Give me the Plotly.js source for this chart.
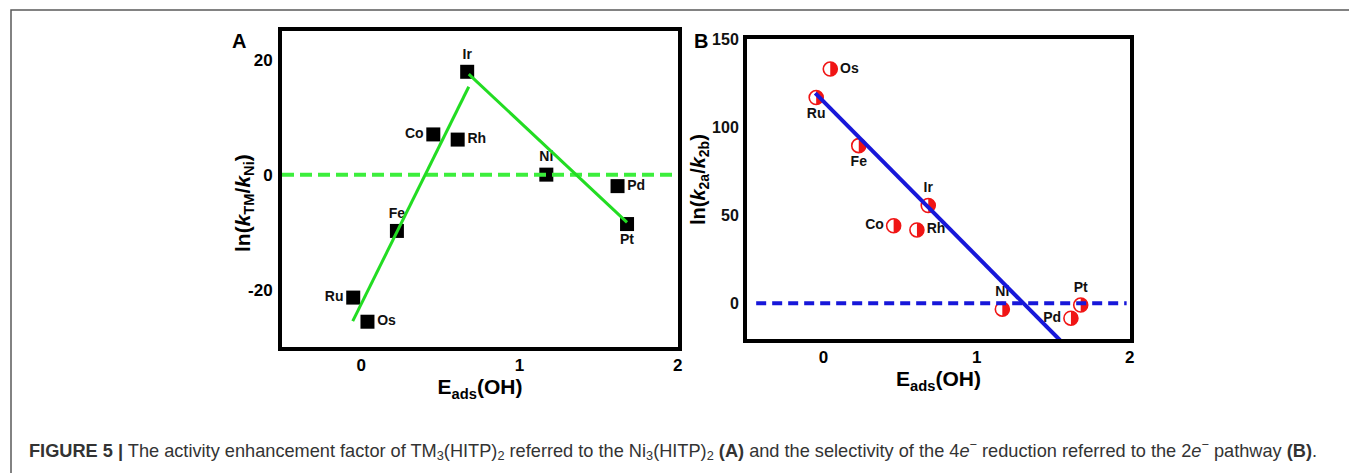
<!DOCTYPE html>
<html>
<head>
<meta charset="utf-8">
<script src="https://cdn.plot.ly/plotly-3.0.1.min.js"></script>
<style>
  html, body { margin: 0; padding: 0; background: #fff; }
  #fig { width: 1349px; height: 473px; }
</style>
</head>
<body>
<div id="fig"></div>
<script>
// ---- Panel A: activity enhancement factor ln(k_TM / k_Ni) vs E_ads(OH)
const metalsA = ['Ru', 'Os', 'Fe', 'Co', 'Rh', 'Ir', 'Ni', 'Pd', 'Pt'];
const eadsA   = [-0.05, 0.04, 0.226, 0.456, 0.61, 0.67, 1.17, 1.62, 1.68];
const lnKA    = [-21.4, -25.6, -9.8, 7.0, 6.1, 17.9, 0.0, -2.0, -8.6];

// volcano branches (left and right legs)
const legLeftX  = [-0.053, 0.68];
const legLeftY  = [-25.5, 15.3];
const legRightX = [0.68, 1.68];
const legRightY = [17.5, -8.3];

// ---- Panel B: selectivity ln(k_2a / k_2b) vs E_ads(OH)
const metalsB = ['Os', 'Ru', 'Fe', 'Ir', 'Co', 'Rh', 'Ni', 'Pd', 'Pt'];
const eadsB   = [0.044, -0.048, 0.23, 0.684, 0.458, 0.61, 1.168, 1.616, 1.68];
const lnKB    = [133, 116.8, 89.5, 55.5, 44.0, 41.6, -3.4, -8.5, -1.0];

const fitBX = [-0.054, 1.545];
const fitBY = [119.3, -21.0];

const refLineAX = [-0.5, 2.0];
const refLineBX = [-0.44, 1.98];
const refLineY  = [0, 0];

// axis ticks
const ticksX  = [0, 1, 2];
const ticksYA = [-20, 0, 20];
const ticksYB = [0, 50, 100, 150];

// label placement per element
const labelPosA = {
  Ru: 'middle left', Os: 'middle right', Fe: 'top center', Co: 'middle left',
  Rh: 'middle right', Ir: 'top center', Ni: 'top center', Pd: 'middle right', Pt: 'bottom center'
};
const labelPosB = {
  Os: 'middle right', Ru: 'bottom center', Fe: 'bottom center', Ir: 'top center',
  Co: 'middle left', Rh: 'middle right', Ni: 'top center', Pd: 'middle left', Pt: 'top center'
};

const FONT = 'Arial, "Liberation Sans", Helvetica, sans-serif';
const W = 1349, H = 473;
const px = v => v / W;
const py = v => 1 - v / H;
const bold = v => `<b>${v}</b>`;

const GREEN = '#22dc22';
const GREEN_DASH = '#3cee3c';
const BLUE = '#1717d9';
const RED = '#f01515';

const labelFont = { family: FONT, size: 14, color: '#111', weight: 'bold' };

const traces = [
  // panel A points
  {
    x: eadsA, y: lnKA, text: metalsA.map(bold), xaxis: 'x', yaxis: 'y',
    mode: 'markers+text', type: 'scatter',
    textposition: metalsA.map(m => labelPosA[m]),
    textfont: labelFont,
    marker: { symbol: 'square', size: 14, color: '#000' },
    cliponaxis: false, hoverinfo: 'skip', showlegend: false
  },
  {
    x: refLineAX, y: refLineY, xaxis: 'x', yaxis: 'y', mode: 'lines',
    line: { color: GREEN_DASH, width: 4, dash: '12px,6px' }, showlegend: false
  },
  {
    x: legLeftX, y: legLeftY, xaxis: 'x', yaxis: 'y', mode: 'lines',
    line: { color: GREEN, width: 3 }, showlegend: false
  },
  {
    x: legRightX, y: legRightY, xaxis: 'x', yaxis: 'y', mode: 'lines',
    line: { color: GREEN, width: 3 }, showlegend: false
  },
  // panel B points (open circle outline; right half filled via shapes)
  {
    x: eadsB, y: lnKB, text: metalsB.map(bold), xaxis: 'x2', yaxis: 'y2',
    mode: 'markers+text', type: 'scatter',
    textposition: metalsB.map(m => labelPosB[m]),
    textfont: labelFont,
    marker: { symbol: 'circle-open', size: 14, color: RED, line: { color: RED, width: 1.6 } },
    cliponaxis: false, hoverinfo: 'skip', showlegend: false
  },
  {
    x: refLineBX, y: refLineY, xaxis: 'x2', yaxis: 'y2', mode: 'lines',
    line: { color: BLUE, width: 4, dash: '10px,6px' }, showlegend: false
  },
  {
    x: fitBX, y: fitBY, xaxis: 'x2', yaxis: 'y2', mode: 'lines',
    line: { color: BLUE, width: 4 }, showlegend: false
  }
];

// right-half fill of each half-filled circle, sized in pixels around the data point
const r = 7, k = 0.5523 * r;
const halfPath = `M0,${r} C${k},${r} ${r},${k} ${r},0 C${r},${-k} ${k},${-r} 0,${-r} Z`;
const shapes = eadsB.map((x, i) => ({
  type: 'path', xref: 'x2', yref: 'y2',
  xsizemode: 'pixel', ysizemode: 'pixel',
  xanchor: x, yanchor: lnKB[i],
  path: halfPath, fillcolor: RED, line: { width: 0 }, layer: 'below'
}));

// outer figure frame (top and left rules)
shapes.push({
  type: 'path', xref: 'paper', yref: 'paper',
  path: `M${px(11)},0 L${px(11)},${py(10)} L1.01,${py(10)}`,
  line: { color: '#5a5a5a', width: 1.5 }
});

const tickFont = { family: FONT, size: 17, color: '#000' };
const titleFont = { family: FONT, size: 21, color: '#000', weight: 'bold' };

const axisBox = {
  showline: true, mirror: true, linewidth: 4, linecolor: '#000',
  showgrid: false, zeroline: false, ticks: '', tickfont: tickFont
};

const layout = {
  width: W, height: H,
  margin: { l: 0, r: 0, t: 0, b: 0 },
  paper_bgcolor: '#fff', plot_bgcolor: '#fff',
  font: { family: FONT },
  showlegend: false,
  xaxis: Object.assign({}, axisBox, {
    domain: [px(282), px(678)], range: [-0.5, 2.002], anchor: 'y',
    tickvals: ticksX, ticktext: ticksX.map(bold),
    title: { text: '<b>E<sub>ads</sub>(OH)</b>', font: titleFont, standoff: 5 }
  }),
  yaxis: Object.assign({}, axisBox, {
    domain: [py(347), py(31)], range: [-30, 25], anchor: 'x',
    tickvals: ticksYA, ticktext: ticksYA.map(v => bold(String(v))),
    ticklabelstandoff: 2
  }),
  xaxis2: Object.assign({}, axisBox, {
    domain: [px(747), px(1130)], range: [-0.5, 2.002], anchor: 'y2',
    tickvals: ticksX, ticktext: ticksX.map(bold),
    title: { text: '<b>E<sub>ads</sub>(OH)</b>', font: titleFont, standoff: 5 }
  }),
  yaxis2: Object.assign({}, axisBox, {
    domain: [py(339), py(39)], range: [-20.3, 150.05], anchor: 'x2',
    tickvals: ticksYB, ticktext: ticksYB.map(bold),
    tickfont: { family: FONT, size: 16, color: '#111' }, ticklabelstandoff: 1
  }),
  shapes: shapes,
  annotations: [
    // y-axis titles
    { text: '<b>ln(<i>k</i><sub>TM</sub>/<i>k</i><sub>Ni</sub>)</b>', xref: 'paper', yref: 'paper',
      x: px(244), y: py(203), xanchor: 'center', yanchor: 'middle', textangle: -90,
      showarrow: false, font: titleFont },
    { text: '<b>ln(<i>k</i><sub>2a</sub>/<i>k</i><sub>2b</sub>)</b>', xref: 'paper', yref: 'paper',
      x: px(699), y: py(180), xanchor: 'center', yanchor: 'middle', textangle: -90,
      showarrow: false, font: Object.assign({}, titleFont, { size: 20 }) },
    // panel letters
    { text: '<b>A</b>', xref: 'paper', yref: 'paper', x: px(239), y: py(41),
      xanchor: 'center', yanchor: 'middle',
      showarrow: false, font: { family: FONT, size: 20, color: '#000' } },
    { text: '<b>B</b>', xref: 'paper', yref: 'paper', x: px(701), y: py(41),
      xanchor: 'center', yanchor: 'middle',
      showarrow: false, font: { family: FONT, size: 20, color: '#000' } },
    // caption
    { text: '<b>FIGURE 5</b> <b>|</b> The activity enhancement factor of TM<sub>3</sub>(HITP)<sub>2</sub> referred to the Ni<sub>3</sub>(HITP)<sub>2</sub> <b>(A)</b> and the selectivity of the 4<i>e</i><sup>−</sup> reduction referred to the 2<i>e</i><sup>−</sup> pathway <b>(B)</b>.',
      xref: 'paper', yref: 'paper', x: px(27), y: py(450), xanchor: 'left', yanchor: 'middle',
      showarrow: false, align: 'left', font: { family: FONT, size: 18.2, color: '#333' } }
  ]
};

Plotly.newPlot('fig', traces, layout, { staticPlot: true, displayModeBar: false });
</script>
</body>
</html>
